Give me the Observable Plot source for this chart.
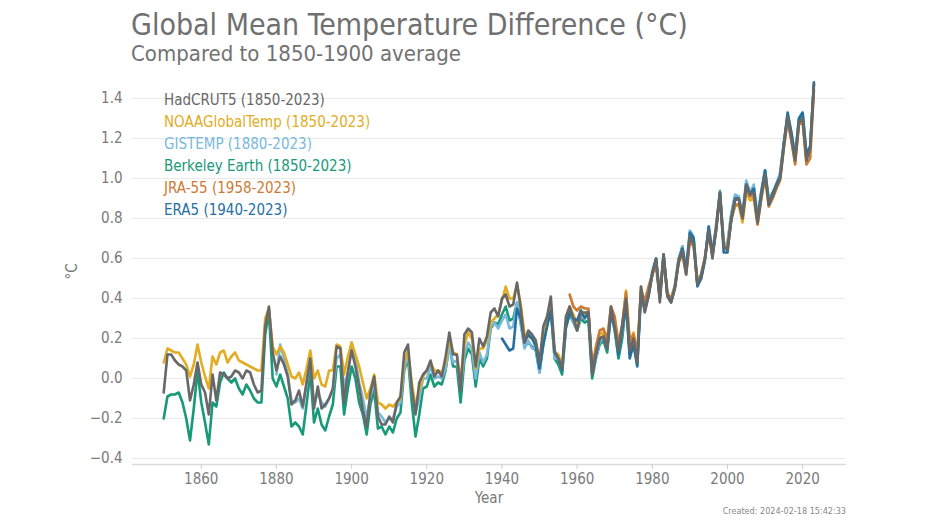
<!DOCTYPE html>
<html><head><meta charset="utf-8">
<script src="https://cdn.jsdelivr.net/npm/d3@7"></script>
<script src="https://cdn.jsdelivr.net/npm/@observablehq/plot@0.6"></script>
<style>
body{margin:0;background:#fff;}
#wrap{position:relative;width:948px;height:526px;overflow:hidden;font-family:"Liberation Sans Narrow","DejaVu Sans Condensed","Roboto",sans-serif;}
#title{position:absolute;left:131px;top:7px;font-size:30px;color:#707070;white-space:nowrap;}
#subtitle{position:absolute;left:131px;top:41px;font-size:22px;color:#727272;white-space:nowrap;}
#chart{position:absolute;left:0;top:70px;}
#legend{position:absolute;left:164px;top:89px;font-size:15px;line-height:22px;white-space:nowrap;}
#caption{position:absolute;right:102px;top:506px;font-size:9px;color:#888;white-space:nowrap;}
</style></head><body>
<div id="wrap">
<div id="title">Global Mean Temperature Difference (°C)</div>
<div id="subtitle">Compared to 1850-1900 average</div>
<div id="chart"></div>
<div id="legend"></div>
<div id="caption">Created: 2024-02-18 15:42:33</div>
</div>
<script>
const seriesNames = ["HadCRUT5", "NOAAGlobalTemp", "GISTEMP", "Berkeley Earth", "JRA-55", "ERA5"];
const seriesStart = [1850, 1850, 1880, 1850, 1958, 1940];
const seriesEnd = [2023, 2023, 2023, 2023, 2023, 2023];
const seriesColors = ["#686868", "#e2ad22", "#78b9dc", "#17997a", "#cc7b35", "#256f9f"];
const drawOrder = ["Berkeley Earth", "GISTEMP", "NOAAGlobalTemp", "JRA-55", "ERA5", "HadCRUT5"];
const yTicks = [-0.4, -0.2, 0.0, 0.2, 0.4, 0.6, 0.8, 1.0, 1.2, 1.4];
const xTicks = [1860, 1880, 1900, 1920, 1940, 1960, 1980, 2000, 2020];

const hadcrut5 = [
 -0.07,0.12,0.12,0.09,0.07,0.06,0.04,-0.11,-0.03,0.08,
 -0.03,-0.07,-0.18,0.02,-0.11,0.03,0.02,0.00,0.01,0.04,
 0.03,0.00,0.04,0.03,-0.03,-0.07,-0.06,0.26,0.36,0.13,
 0.04,0.11,0.07,0.01,-0.13,-0.11,-0.06,-0.14,-0.02,0.10,
 -0.15,-0.04,-0.15,-0.13,-0.10,-0.05,0.16,0.15,-0.12,0.03,
 0.14,0.06,-0.04,-0.16,-0.24,-0.07,0.01,-0.19,-0.23,-0.23,
 -0.19,-0.22,-0.12,-0.09,0.13,0.17,-0.05,-0.18,-0.02,0.02,
 0.04,0.09,0.01,0.04,0.01,0.11,0.23,0.12,0.12,-0.06,
 0.22,0.25,0.23,0.06,0.20,0.16,0.21,0.33,0.35,0.31,
 0.40,0.42,0.36,0.37,0.48,0.35,0.18,0.24,0.22,0.19,
 0.08,0.26,0.31,0.41,0.14,0.10,0.05,0.31,0.36,0.30,
 0.24,0.33,0.33,0.33,0.02,0.12,0.20,0.21,0.15,0.36,
 0.25,0.14,0.27,0.40,0.14,0.20,0.08,0.46,0.33,0.41,
 0.52,0.60,0.38,0.62,0.41,0.38,0.45,0.58,0.64,0.52,
 0.71,0.67,0.47,0.52,0.60,0.74,0.60,0.75,0.93,0.66,
 0.64,0.79,0.89,0.90,0.80,0.97,0.92,0.93,0.78,0.91,
 1.02,0.88,0.91,0.96,1.00,1.17,1.31,1.20,1.09,1.28,
 1.30,1.09,1.15,1.47];

const noaaGlobalTemp = [
 0.08,0.15,0.14,0.13,0.13,0.10,0.07,0.01,0.07,0.17,
 0.08,0.01,-0.05,0.11,0.07,0.13,0.14,0.08,0.11,0.13,
 0.09,0.08,0.07,0.06,0.05,0.04,0.04,0.30,0.35,0.16,
 0.12,0.16,0.13,0.07,0.01,0.00,0.03,-0.03,0.05,0.14,
 0.00,0.04,-0.03,-0.04,0.04,0.04,0.17,0.16,0.02,0.11,
 0.18,0.12,0.06,-0.02,-0.10,-0.05,0.02,-0.12,-0.13,-0.15,
 -0.13,-0.14,-0.12,-0.10,0.08,0.14,-0.02,-0.14,-0.06,0.01,
 0.04,0.08,0.04,0.04,0.03,0.08,0.20,0.13,0.12,-0.01,
 0.17,0.23,0.20,0.05,0.15,0.15,0.19,0.28,0.30,0.32,
 0.39,0.46,0.40,0.40,0.47,0.37,0.22,0.21,0.20,0.18,
 0.08,0.22,0.30,0.37,0.13,0.12,0.06,0.28,0.36,0.32,
 0.27,0.34,0.32,0.33,0.05,0.15,0.22,0.23,0.20,0.35,
 0.29,0.18,0.26,0.44,0.17,0.23,0.12,0.46,0.35,0.44,
 0.52,0.58,0.42,0.61,0.43,0.40,0.46,0.60,0.63,0.54,
 0.70,0.68,0.49,0.52,0.61,0.72,0.62,0.76,0.91,0.66,
 0.66,0.80,0.86,0.87,0.78,0.93,0.89,0.90,0.77,0.90,
 1.01,0.86,0.90,0.95,1.00,1.16,1.30,1.19,1.08,1.27,
 1.29,1.10,1.13,1.45];

const gistemp = [
 0.02,0.17,0.10,0.02,-0.11,-0.12,-0.10,-0.15,-0.03,0.10,
 -0.13,-0.07,-0.12,-0.14,-0.10,-0.06,0.10,0.12,-0.04,0.03,
 0.18,0.10,-0.02,-0.10,-0.20,-0.09,-0.02,-0.17,-0.19,-0.22,
 -0.20,-0.20,-0.14,-0.12,0.05,0.12,-0.06,-0.17,-0.10,0.00,
 0.00,0.06,0.00,0.01,0.00,0.05,0.16,0.08,0.09,-0.05,
 0.12,0.18,0.15,0.00,0.13,0.08,0.12,0.26,0.28,0.25,
 0.29,0.32,0.25,0.26,0.38,0.27,0.15,0.19,0.15,0.15,
 0.03,0.17,0.27,0.35,0.10,0.10,0.04,0.27,0.34,0.28,
 0.24,0.31,0.32,0.34,0.04,0.10,0.18,0.21,0.15,0.33,
 0.24,0.13,0.23,0.40,0.13,0.18,0.10,0.43,0.34,0.42,
 0.54,0.60,0.42,0.62,0.43,0.39,0.47,0.60,0.66,0.55,
 0.74,0.71,0.48,0.52,0.60,0.76,0.64,0.76,0.94,0.67,
 0.68,0.82,0.92,0.91,0.82,0.99,0.93,0.97,0.81,0.94,
 1.04,0.89,0.92,0.97,1.03,1.18,1.32,1.23,1.12,1.30,
 1.33,1.13,1.16,1.48];

const berkeleyEarth = [
 -0.20,-0.09,-0.08,-0.08,-0.07,-0.12,-0.20,-0.31,-0.15,0.04,
 -0.12,-0.22,-0.33,-0.12,-0.14,-0.02,0.03,0.00,-0.02,0.00,
 -0.05,-0.08,-0.03,-0.06,-0.10,-0.12,-0.12,0.22,0.33,0.00,
 -0.04,0.02,-0.04,-0.10,-0.24,-0.22,-0.24,-0.28,-0.13,0.03,
 -0.22,-0.15,-0.23,-0.26,-0.19,-0.13,0.06,0.06,-0.18,-0.05,
 0.06,0.00,-0.12,-0.18,-0.28,-0.13,-0.06,-0.25,-0.24,-0.28,
 -0.24,-0.27,-0.20,-0.17,0.04,0.10,-0.12,-0.29,-0.18,-0.05,
 -0.04,0.02,-0.04,-0.02,-0.03,0.04,0.17,0.06,0.06,-0.12,
 0.09,0.15,0.12,-0.04,0.10,0.06,0.10,0.25,0.28,0.27,
 0.32,0.36,0.29,0.30,0.38,0.28,0.16,0.18,0.16,0.14,
 0.03,0.18,0.27,0.35,0.10,0.07,0.02,0.25,0.32,0.28,
 0.24,0.30,0.28,0.29,0.00,0.10,0.17,0.19,0.13,0.33,
 0.24,0.10,0.20,0.38,0.12,0.18,0.07,0.44,0.34,0.42,
 0.52,0.59,0.41,0.62,0.42,0.39,0.46,0.59,0.66,0.54,
 0.72,0.69,0.47,0.51,0.60,0.75,0.61,0.77,0.93,0.68,
 0.67,0.82,0.91,0.90,0.82,0.98,0.93,0.95,0.80,0.93,
 1.04,0.89,0.93,0.97,1.02,1.18,1.31,1.22,1.11,1.28,
 1.31,1.12,1.16,1.47];

const jra55 = [
 0.42,0.36,
 0.34,0.36,0.35,0.35,0.05,0.16,0.24,0.25,0.19,0.36,
 0.31,0.17,0.27,0.43,0.19,0.22,0.13,0.44,0.39,0.46,
 0.52,0.56,0.40,0.60,0.42,0.40,0.46,0.58,0.62,0.52,
 0.69,0.66,0.47,0.50,0.60,0.73,0.62,0.74,0.92,0.66,
 0.66,0.79,0.87,0.87,0.80,0.95,0.91,0.91,0.77,0.90,
 1.01,0.86,0.90,0.95,0.99,1.15,1.29,1.19,1.07,1.27,
 1.28,1.07,1.10,1.44];

const era5 = [
 0.20,0.17,0.14,0.15,0.35,0.30,0.18,0.22,0.20,0.16,
 0.05,0.17,0.26,0.34,0.13,0.10,0.04,0.26,0.33,0.30,
 0.29,0.34,0.30,0.33,0.03,0.12,0.20,0.21,0.15,0.33,
 0.25,0.12,0.24,0.38,0.10,0.17,0.06,0.43,0.34,0.42,
 0.53,0.60,0.40,0.62,0.42,0.38,0.45,0.59,0.65,0.54,
 0.73,0.70,0.46,0.50,0.59,0.76,0.62,0.75,0.93,0.63,
 0.63,0.80,0.90,0.90,0.81,0.97,0.92,0.95,0.79,0.93,
 1.04,0.87,0.92,0.97,1.01,1.17,1.33,1.23,1.10,1.30,
 1.33,1.12,1.16,1.48];

const seriesValues = {
  "HadCRUT5": hadcrut5,
  "NOAAGlobalTemp": noaaGlobalTemp,
  "GISTEMP": gistemp,
  "Berkeley Earth": berkeleyEarth,
  "JRA-55": jra55,
  "ERA5": era5
};

const FONT = '"Liberation Sans Narrow","DejaVu Sans Condensed","Roboto",sans-serif';

const rows = [];
for (const name of drawOrder) {
  const k = seriesNames.indexOf(name);
  seriesValues[name].forEach((v, i) => rows.push({series: name, year: seriesStart[k] + i, value: v}));
}

const chart = Plot.plot({
  width: 948,
  height: 445,
  marginLeft: 132,
  marginRight: 103,
  marginTop: 8,
  marginBottom: 51,
  style: {fontFamily: FONT, fontSize: "15px", color: "#7a7a7a", background: "transparent", overflow: "visible"},
  x: {domain: [1841.7, 2031.4]},
  y: {domain: [-0.43, 1.5]},
  color: {domain: seriesNames, range: seriesColors},
  marks: [
    Plot.gridY(yTicks, {stroke: "#e9e9e9", strokeOpacity: 1, strokeWidth: 1}),
    Plot.frame({anchor: "bottom", stroke: "#dcdcdc", strokeWidth: 1.5}),
    Plot.axisY(yTicks, {tickSize: 0, tickPadding: 10, tickFormat: d3.format(".1f"), label: "°C", labelAnchor: "center", labelArrow: "none", labelOffset: 66, fontSize: 15}),
    Plot.axisX(xTicks, {tickSize: 5, stroke: "#cfcfcf", tickPadding: 4, tickFormat: "d", label: "Year", labelAnchor: "center", labelArrow: "none", labelOffset: 38, fontSize: 15}),
    Plot.line(rows, {x: "year", y: "value", z: "series", stroke: "series", strokeWidth: 2.6, strokeLinejoin: "round"})
  ]
});
document.getElementById("chart").appendChild(chart);

const legend = document.getElementById("legend");
seriesNames.forEach((name, k) => {
  const d = document.createElement("div");
  d.textContent = `${name} (${seriesStart[k]}-${seriesEnd[k]})`;
  d.style.color = seriesColors[k];
  legend.appendChild(d);
});
</script>
</body></html>
